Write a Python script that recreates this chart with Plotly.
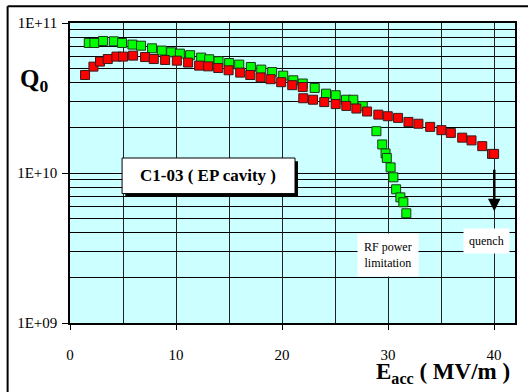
import plotly.graph_objects as go

# Red series (upper curve to quench)
red_x = [1.42, 2.21, 2.83, 3.56, 4.38, 5.00, 5.95, 7.08, 7.90, 8.97, 10.08, 11.14, 12.18, 13.03,
         13.98, 14.96, 16.05, 17.00, 17.98, 18.92, 19.92, 20.96, 21.95, 22.00, 22.92, 23.98, 25.06,
         26.06, 27.01, 28.02, 29.08, 29.97, 30.94, 31.92, 32.86, 33.97, 35.03, 35.92, 36.99, 37.87,
         38.88, 39.8, 40.0]
red_q = [4.50e10, 5.12e10, 5.53e10, 5.75e10, 5.97e10, 5.97e10, 6.06e10, 5.93e10, 5.75e10, 5.67e10,
         5.61e10, 5.45e10, 5.20e10, 5.14e10, 5.01e10, 4.84e10, 4.67e10, 4.50e10, 4.34e10, 4.22e10,
         4.03e10, 3.85e10, 3.74e10, 3.15e10, 3.08e10, 2.97e10, 2.88e10, 2.80e10, 2.69e10, 2.57e10,
         2.45e10, 2.39e10, 2.33e10, 2.19e10, 2.13e10, 2.03e10, 1.93e10, 1.85e10, 1.72e10, 1.65e10,
         1.51e10, 1.34e10, 1.34e10]

# Green series (RF power limited)
green_x = [1.77, 2.30, 3.12, 4.13, 4.91, 5.89, 6.70, 7.74, 8.66, 9.54, 10.36, 11.33, 12.37, 13.13,
           14.01, 15.01, 15.96, 17.06, 18.04, 19.07, 20.11, 21.06, 21.95, 23.08, 24.15, 25.06, 26.03,
           26.72, 27.61, 28.90, 29.45, 29.76, 29.88, 30.24, 30.50, 30.76, 31.16, 31.44, 31.72]
green_q = [7.36e10, 7.36e10, 7.59e10, 7.55e10, 7.36e10, 7.18e10, 7.06e10, 6.78e10, 6.55e10, 6.38e10,
           6.25e10, 6.10e10, 5.88e10, 5.73e10, 5.56e10, 5.41e10, 5.28e10, 5.09e10, 4.89e10, 4.71e10,
           4.46e10, 4.15e10, 3.95e10, 3.69e10, 3.38e10, 3.30e10, 3.08e10, 3.08e10, 2.79e10, 1.90e10,
           1.55e10, 1.35e10, 1.26e10, 1.09e10, 9.36e9, 7.79e9, 6.88e9, 6.38e9, 5.39e9]

y_tickvals = [1e9, 1e10, 1e11]
y_ticktext = ["1E+09", "1E+10", "1E+11"]
x_tickvals = [0, 10, 20, 30, 40]

FONT = "Liberation Serif, Times New Roman, DejaVu Serif, serif"
W, H = 528, 392
L, R, T, B = 70.3, 13.3, 22.7, 69.3
PW, PH = W - L - R, H - T - B


def px(x):
    return (x - L) / PW


def py(y):
    return (H - B - y) / PH


fig = go.Figure()
fig.add_trace(go.Scatter(x=green_x, y=green_q, mode="markers",
                         marker=dict(symbol="square", size=9, color="#00FF00",
                                     line=dict(color="#1a3a1a", width=1))))
fig.add_trace(go.Scatter(x=red_x, y=red_q, mode="markers",
                         marker=dict(symbol="square", size=9, color="#FF0000",
                                     line=dict(color="#3a1a1a", width=1))))

shapes = [
    # outer frame (left and top edges)
    dict(type="line", xref="paper", yref="paper", x0=px(8), x1=px(8), y0=py(6), y1=py(400),
         line=dict(color="black", width=2)),
    dict(type="line", xref="paper", yref="paper", x0=px(8), x1=px(540), y0=py(6), y1=py(6),
         line=dict(color="black", width=2)),
    # title box shadow and box
    dict(type="rect", xref="paper", yref="paper", x0=px(125.5), x1=px(298), y0=py(196.5), y1=py(161),
         fillcolor="black", line=dict(width=0)),
    dict(type="rect", xref="paper", yref="paper", x0=px(122.3), x1=px(295), y0=py(193.3), y1=py(157.7),
         fillcolor="white", line=dict(color="black", width=1)),
]

C = dict(xref="paper", yref="paper", xanchor="center", yanchor="middle", showarrow=False)
annotations = [
    dict(C, x=px(208.6), y=py(175.5),
         text="<b>C1-03 ( EP cavity )</b>", font=dict(family=FONT, size=17, color="black")),
    dict(C, x=px(388), y=py(255), text="RF power<br>limitation", bgcolor="white", borderpad=6,
         font=dict(family=FONT, size=12, color="black")),
    dict(C, x=px(486.5), y=py(240.5), text="quench", bgcolor="white", borderpad=5,
         font=dict(family=FONT, size=12, color="black")),
    dict(C, x=px(34), y=py(80), text="<b>Q<sub>0</sub></b>",
         font=dict(family=FONT, size=25, color="black")),
    dict(C, x=px(443), y=py(373), text="<b>E<sub>acc</sub> ( MV/m )</b>",
         font=dict(family=FONT, size=23, color="black")),
    # quench arrow
    dict(x=px(494), y=py(211), ax=0, ay=-43, xref="paper", yref="paper",
         axref="pixel", ayref="pixel", showarrow=True, arrowhead=2, arrowsize=1,
         arrowwidth=2.5, arrowcolor="black", text=""),
]

fig.update_layout(
    width=W, height=H,
    margin=dict(l=L, r=R, t=T, b=B, pad=0),
    paper_bgcolor="white", plot_bgcolor="#CCFFFF",
    showlegend=False,
    shapes=shapes, annotations=annotations,
    xaxis=dict(range=[0, 41.97], tickvals=x_tickvals, ticks="outside", ticklen=5,
               tickcolor="black", showline=True, linecolor="black", linewidth=1.5, mirror=True,
               showgrid=True, gridcolor="#222", gridwidth=1, zeroline=False,
               minor=dict(dtick=5, showgrid=True, gridcolor="#222", gridwidth=1),
               tickfont=dict(family=FONT, size=15, color="black"), ticklabelstandoff=12),
    yaxis=dict(type="log", range=[9, 11], tickvals=y_tickvals, ticktext=y_ticktext,
               ticks="outside", ticklen=6, tickcolor="black", showline=True, linecolor="black",
               linewidth=1.5, mirror=True, showgrid=True, gridcolor="black", gridwidth=1,
               minor=dict(dtick="D1", showgrid=True, gridcolor="black", gridwidth=1),
               tickfont=dict(family=FONT, size=15, color="black"), ticklabelstandoff=2),
)

fig.write_html("out.html", config={"displayModeBar": False},
               post_script="document.body.style.margin='0';")
